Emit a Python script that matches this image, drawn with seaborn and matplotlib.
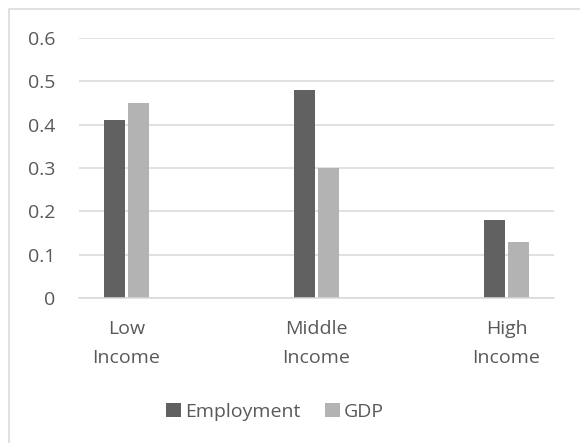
import matplotlib
matplotlib.use("Agg")
import matplotlib.pyplot as plt
import matplotlib.patches as mpatches
import seaborn as sns
import pandas as pd

categories = ["Low\nIncome", "Middle\nIncome", "High\nIncome"]
employment = [0.41, 0.48, 0.18]
gdp = [0.45, 0.30, 0.13]
series_names = ["Employment", "GDP"]
yticks = [0, 0.1, 0.2, 0.3, 0.4, 0.5, 0.6]
ytick_labels = ["0", "0.1", "0.2", "0.3", "0.4", "0.5", "0.6"]

df = pd.DataFrame({
    "category": categories * 2,
    "series": [series_names[0]] * 3 + [series_names[1]] * 3,
    "value": employment + gdp,
})

sns.set_theme(style="white")
plt.rcParams['font.family'] = ['Open Sans', 'DejaVu Sans']

W, H = 580, 443
fig = plt.figure(figsize=(W / 100, H / 100), dpi=100)
ax = fig.add_axes([79 / W, 1 - 298 / H, (554 - 79) / W, (298 - 38) / H])

sns.barplot(data=df, x="category", y="value", hue="series", order=categories,
            hue_order=series_names, palette=["#616161", "#B3B3B3"],
            width=0.253, gap=0.13, saturation=1, ax=ax, legend=True,
            edgecolor="none", linewidth=0)

ax.set_xlim(-0.25, 2.25)
ax.set_ylim(0, 0.6)
ax.set_yticks(yticks)
ax.set_yticklabels(ytick_labels)
ax.yaxis.grid(True, color="#D9D9D9", linewidth=1.1)
ax.set_axisbelow(True)
for s in ["top", "right", "left"]:
    ax.spines[s].set_visible(False)
ax.spines["bottom"].set_color("#D9D9D9")
ax.spines["bottom"].set_linewidth(1.1)
ax.set_xlabel("")
ax.set_ylabel("")
ax.tick_params(axis="both", length=0, labelsize=14, colors="#595959")
ax.tick_params(axis="y", pad=17)
ax.tick_params(axis="x", pad=16)
for lbl in ax.get_xticklabels():
    lbl.set_linespacing(1.75)

handles, labels = ax.get_legend_handles_labels()
ax.legend(handles, labels, loc="center", bbox_to_anchor=(275 / W, 1 - 412 / H),
          bbox_transform=fig.transFigure, ncol=2, frameon=False, fontsize=14,
          labelcolor="#595959", handlelength=0.75, handleheight=0.75,
          handletextpad=0.2, columnspacing=1.3)

fig.patches.append(mpatches.Rectangle((9 / W, -0.1), 1.2, 1 - 9 / H + 0.1,
                                      transform=fig.transFigure, fill=False,
                                      edgecolor="#D9D9D9", linewidth=1.1))

fig.savefig("out.png", dpi=100)
